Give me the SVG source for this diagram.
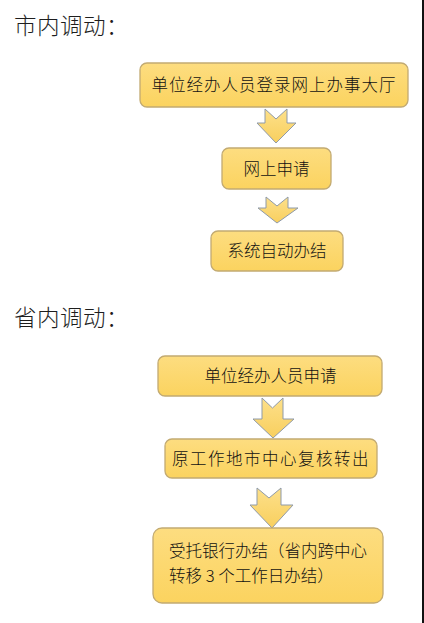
<svg xmlns="http://www.w3.org/2000/svg" width="424" height="623" viewBox="0 0 424 623">
<defs>
<style>
.title{font-family:"Noto Sans CJK SC","Noto Sans",sans-serif;font-size:22.5px;font-weight:300;fill:#1e1e1e;letter-spacing:0.5px}
.box{fill:url(#g);stroke:#c2aa72;stroke-width:1.3}
.lbl{font-family:"Noto Sans CJK SC","Noto Sans",sans-serif;font-size:16.5px;font-weight:300;fill:#111}
.arr{fill:url(#g2);stroke:#8f9aa8;stroke-width:1}
</style>
<linearGradient id="g" x1="0" y1="0" x2="0" y2="1">
<stop offset="0" stop-color="#fddd80"/>
<stop offset="1" stop-color="#fbd35f"/>
</linearGradient>
<linearGradient id="g2" x1="0" y1="0" x2="0" y2="1">
<stop offset="0" stop-color="#fde08a"/>
<stop offset="1" stop-color="#f8cf5e"/>
</linearGradient>
</defs>
<rect width="424" height="623" fill="#ffffff"/>
<rect x="422" y="0" width="2" height="623" fill="#111"/>

<text class="title" x="14" y="34" id="title1">市内调动：</text>
<text class="title" x="14" y="326" id="title2">省内调动：</text>

<g id="connectors">
<path class="arr" d="M265,109 L276,119 L287,109 L287,123 L296,123 L276,143 L257,123 L265,123 Z"/>
<path class="arr" d="M266,197 L277,206 L288,197 L288,208 L298,208 L277,223 L258,208 L266,208 Z"/>
<path class="arr" d="M262,398 L272.5,408 L283,398 L283,419 L294,419 L273,438 L253,419 L262,419 Z"/>
<path class="arr" d="M257,488 L269,498 L281,488 L281,505 L293,505 L272,528 L250,505 L257,505 Z"/>
</g>

<g id="n1">
<rect class="box" x="140" y="63" width="268" height="44" rx="7"/>
<text class="lbl" x="274" y="91" text-anchor="middle" letter-spacing="1">单位经办人员登录网上办事大厅</text>
</g>
<g id="n2">
<rect class="box" x="222" y="148" width="109" height="41" rx="7"/>
<text class="lbl" x="276.5" y="174.5" text-anchor="middle">网上申请</text>
</g>
<g id="n3">
<rect class="box" x="211" y="231" width="132" height="40" rx="7"/>
<text class="lbl" x="277" y="257" text-anchor="middle">系统自动办结</text>
</g>
<g id="n4">
<rect class="box" x="158" y="356" width="224" height="40" rx="7"/>
<text class="lbl" x="270.5" y="382" text-anchor="middle">单位经办人员申请</text>
</g>
<g id="n5">
<rect class="box" x="165" y="439" width="212" height="39" rx="7"/>
<text class="lbl" x="271" y="464.5" text-anchor="middle" letter-spacing="1.5">原工作地市中心复核转出</text>
</g>
<g id="n6">
<rect class="box" x="153" y="528" width="230" height="75" rx="9"/>
<text class="lbl" x="169" y="557">受托银行办结（省内跨中心</text>
<text class="lbl" x="169" y="582">转移<tspan dx="3.7">3</tspan><tspan dx="3.7">个工作日办结）</tspan></text>
</g>
</svg>
